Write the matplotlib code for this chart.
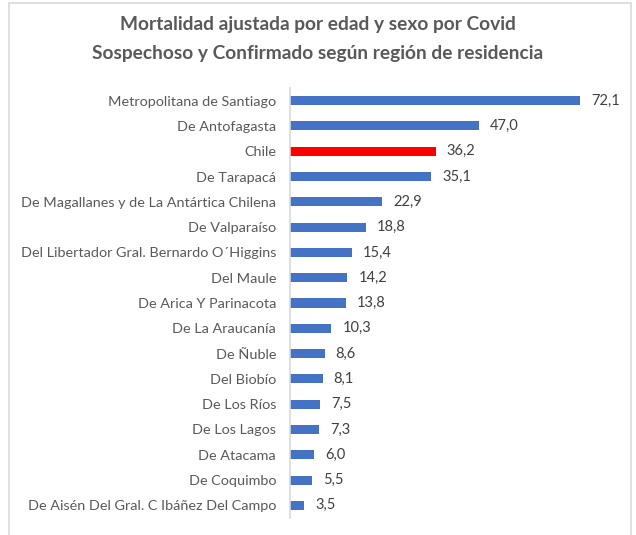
import matplotlib
matplotlib.use("Agg")
import matplotlib.pyplot as plt
from matplotlib.patches import Rectangle

regions = [
    "Metropolitana de Santiago",
    "De Antofagasta",
    "Chile",
    "De Tarapacá",
    "De Magallanes y de La Antártica Chilena",
    "De Valparaíso",
    "Del Libertador Gral. Bernardo O´Higgins",
    "Del Maule",
    "De Arica Y Parinacota",
    "De La Araucanía",
    "De Ñuble",
    "Del Biobío",
    "De Los Ríos",
    "De Los Lagos",
    "De Atacama",
    "De Coquimbo",
    "De Aisén Del Gral. C Ibáñez Del Campo",
]
rates = [72.1, 47.0, 36.2, 35.1, 22.9, 18.8, 15.4, 14.2, 13.8, 10.3, 8.6, 8.1, 7.5, 7.3, 6.0, 5.5, 3.5]

title = "Mortalidad ajustada por edad y sexo por Covid\nSospechoso y Confirmado según región de residencia"

BLUE = "#4472C4"
RED = "#FF0000"
TEXT = "#595959"

plt.rcParams["font.family"] = ["Lato", "DejaVu Sans"]

fig = plt.figure(figsize=(6.36, 5.35), dpi=100)
fig.patch.set_facecolor("white")

# chart area frame
fig.patches.append(Rectangle((9 / 636, -0.01), (631 - 9) / 636, 1 - 3 / 535 + 0.01,
                             transform=fig.transFigure, fill=False,
                             edgecolor="#D9D9D9", linewidth=1.2))

ax = fig.add_axes([290 / 636, 1 - 518 / 535, 322 / 636, 430 / 535])

ypos = list(range(len(regions)))
colors = [RED if r == "Chile" else BLUE for r in regions]
ax.barh(ypos, rates, height=0.36, color=colors)

ax.set_ylim(len(regions) - 0.5, -0.5)
ax.set_xlim(0, 80)
ax.set_yticks(ypos)
ax.set_yticklabels(regions, fontsize=10.4, color=TEXT)
ax.tick_params(axis="y", length=0, pad=10)
ax.set_xticks([])

for s in ["top", "right", "bottom"]:
    ax.spines[s].set_visible(False)
ax.spines["left"].set_color("#D9D9D9")
ax.spines["left"].set_linewidth(1.2)

for y, v in zip(ypos, rates):
    ax.annotate(f"{v:.1f}".replace(".", ","), (v, y), xytext=(8, 0),
                textcoords="offset points", va="center", ha="left",
                fontsize=10.5, color="#404040")

fig.text(0.5, 1 - 39 / 535, title, ha="center", va="center", fontsize=13.8,
         fontweight="bold", color=TEXT, linespacing=1.85)

fig.savefig("out.png", dpi=100)
